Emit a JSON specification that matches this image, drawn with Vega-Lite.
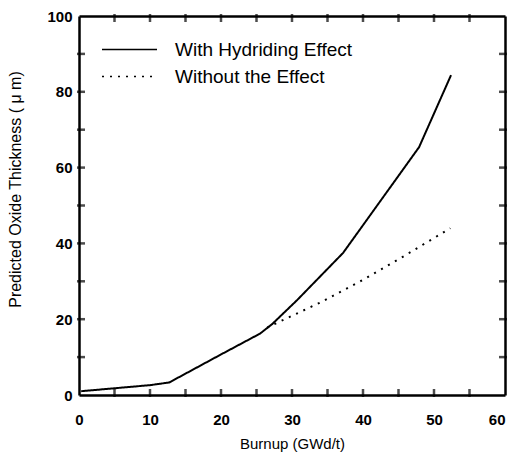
{
  "$schema": "https://vega.github.io/schema/vega-lite/v6.json",
  "width": 426,
  "height": 379,
  "autosize": {"type": "none"},
  "padding": {"left": 79, "top": 16, "right": 7, "bottom": 62},
  "background": "white",
  "config": {
    "view": {"stroke": null},
    "font": "Liberation Sans",
    "axis": {"domainColor": "black", "domainWidth": 2.5, "grid": false, "labelColor": "black", "titleColor": "black"}
  },
  "datasets": {
    "curves": [
      {"burnup": 0.3, "oxide": 1.0, "series": "With Hydriding Effect"},
      {"burnup": 10, "oxide": 2.6, "series": "With Hydriding Effect"},
      {"burnup": 12.7, "oxide": 3.3, "series": "With Hydriding Effect"},
      {"burnup": 20, "oxide": 10.7, "series": "With Hydriding Effect"},
      {"burnup": 25.5, "oxide": 16.2, "series": "With Hydriding Effect"},
      {"burnup": 27.2, "oxide": 18.7, "series": "With Hydriding Effect"},
      {"burnup": 30.7, "oxide": 25.0, "series": "With Hydriding Effect"},
      {"burnup": 37.2, "oxide": 37.5, "series": "With Hydriding Effect"},
      {"burnup": 47.9, "oxide": 65.4, "series": "With Hydriding Effect"},
      {"burnup": 52.4, "oxide": 84.4, "series": "With Hydriding Effect"},
      {"burnup": 26.5, "oxide": 17.8, "series": "Without the Effect"},
      {"burnup": 34.2, "oxide": 24.6, "series": "Without the Effect"},
      {"burnup": 40, "oxide": 30.4, "series": "Without the Effect"},
      {"burnup": 46, "oxide": 36.9, "series": "Without the Effect"},
      {"burnup": 52.3, "oxide": 44.0, "series": "Without the Effect"}
    ],
    "xticks": [{"v": 5}, {"v": 10}, {"v": 15}, {"v": 20}, {"v": 25}, {"v": 30}, {"v": 35}, {"v": 40}, {"v": 45}, {"v": 50}, {"v": 55}],
    "yticks": [{"v": 10}, {"v": 20}, {"v": 30}, {"v": 40}, {"v": 50}, {"v": 60}, {"v": 70}, {"v": 80}, {"v": 90}]
  },
  "layer": [
    {
      "data": {"name": "curves"},
      "mark": {"type": "line", "color": "black", "strokeWidth": 2},
      "encoding": {
        "x": {"field": "burnup", "type": "quantitative", "scale": {"domain": [0, 60], "nice": false},
          "axis": {"orient": "bottom", "values": [0,10,20,30,40,50,60], "ticks": false, "tickSize": 0, "labelPadding": 17, "labelFontSize": 15, "labelFontWeight": "bold", "labelFlush": false,
            "labelAlign": {"condition": {"test": "datum.value === 60", "value": "right"}, "value": "center"},
            "title": "Burnup (GWd/t)", "titleFontSize": 15, "titleFontWeight": "normal", "titlePadding": 9}},
        "y": {"field": "oxide", "type": "quantitative", "scale": {"domain": [0, 100], "nice": false},
          "axis": {"orient": "left", "values": [0,20,40,60,80,100], "ticks": false, "tickSize": 0, "labelPadding": 7, "labelFontSize": 15, "labelFontWeight": "bold", "labelFlush": false, "title": "Predicted Oxide Thickness ( μ m)", "titleFontSize": 16, "titleFontWeight": "normal", "titlePadding": 23.5, "titleY": 173}},
        "strokeDash": {"field": "series", "type": "nominal",
          "scale": {"domain": ["With Hydriding Effect", "Without the Effect"], "range": [[1, 0], [2, 6]]},
          "legend": {"orient": "none", "legendX": 22, "legendY": 20, "title": null, "symbolType": "stroke", "symbolSize": 3025, "symbolStrokeColor": "black", "symbolStrokeWidth": 1.5, "labelFontSize": 19, "labelOffset": 17, "labelLimit": 400, "rowPadding": 0, "clipHeight": 27, "labelColor": "black"}}
      }
    },
    {
      "data": {"name": "curves"},
      "mark": {"type": "line", "opacity": 0},
      "encoding": {
        "x": {"field": "burnup", "type": "quantitative",
          "axis": {"orient": "top", "values": [], "labels": false, "ticks": false, "title": null}},
        "y": {"field": "oxide", "type": "quantitative",
          "axis": {"orient": "right", "values": [], "labels": false, "ticks": false, "title": null}}
      }
    },
    {
      "data": {"name": "xticks"},
      "mark": {"type": "tick", "orient": "vertical", "color": "black", "size": 8, "thickness": 2.5, "yOffset": -2},
      "encoding": {
        "x": {"field": "v", "type": "quantitative", "axis": null},
        "y": {"datum": 0, "type": "quantitative", "axis": null}
      }
    },
    {
      "data": {"name": "xticks"},
      "mark": {"type": "tick", "orient": "vertical", "color": "black", "size": 8, "thickness": 2.5, "yOffset": 2},
      "encoding": {
        "x": {"field": "v", "type": "quantitative", "axis": null},
        "y": {"datum": 100, "type": "quantitative", "axis": null}
      }
    },
    {
      "data": {"name": "yticks"},
      "mark": {"type": "tick", "orient": "horizontal", "color": "black", "size": 8, "thickness": 2.5, "xOffset": 2},
      "encoding": {
        "y": {"field": "v", "type": "quantitative", "axis": null},
        "x": {"datum": 0, "type": "quantitative", "axis": null}
      }
    },
    {
      "data": {"name": "yticks"},
      "mark": {"type": "tick", "orient": "horizontal", "color": "black", "size": 8, "thickness": 2.5, "xOffset": -2},
      "encoding": {
        "y": {"field": "v", "type": "quantitative", "axis": null},
        "x": {"datum": 60, "type": "quantitative", "axis": null}
      }
    }
  ],
  "resolve": {"axis": {"x": "independent", "y": "independent"}}
}
